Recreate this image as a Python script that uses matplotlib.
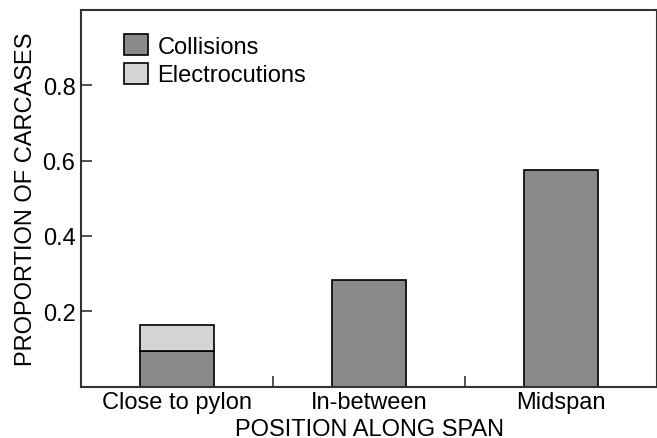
import matplotlib.pyplot as plt
import numpy as np
from matplotlib.patches import Patch

plt.rcParams['font.family'] = ['Liberation Sans', 'DejaVu Sans']

# data
positions = ['Close to pylon', 'In-between', 'Midspan']
collisions = [0.095, 0.283, 0.576]
electrocutions = [0.068, 0.0, 0.0]

fig = plt.figure(figsize=(6.57, 4.39), dpi=100)
ax = fig.add_axes([0.1233, 0.1173, 0.8767, 0.858])

x = np.arange(len(positions))
w = 0.39
ax.bar(x, collisions, w, color='#8a8a8a', edgecolor='black', linewidth=1.2)
has_e = np.array(electrocutions) > 0
ax.bar(x[has_e], np.array(electrocutions)[has_e], w, bottom=np.array(collisions)[has_e],
       color='#d4d4d4', edgecolor='black', linewidth=1.2)

ax.set_xlim(-0.5, 2.5)
ax.set_ylim(0, 1.0)

# y ticks 0..1 but label only 0.2-0.8
yt = [0, 0.2, 0.4, 0.6, 0.8, 1.0]
ax.set_yticks(yt)
ax.set_yticklabels(['', '0.2', '0.4', '0.6', '0.8', ''])
ax.tick_params(axis='y', direction='in', length=8, width=1.2, colors='#333333',
               labelcolor='black', labelsize=17, pad=4)

# x: separator ticks between categories, labels centred under bars
ax.set_xticks([0.5, 1.5])
ax.set_xticklabels([])
ax.set_xticks(x, minor=True)
ax.set_xticklabels(positions, minor=True, fontsize=17)
ax.tick_params(axis='x', which='major', direction='in', length=8, width=1.2, colors='#333333')
ax.tick_params(axis='x', which='minor', length=0, pad=3)

for s in ax.spines.values():
    s.set_color('#333333')
    s.set_linewidth(1.5)

ax.set_xlabel('POSITION ALONG SPAN', fontsize=17, labelpad=3.5)
ax.set_ylabel('PROPORTION OF CARCASES', fontsize=17, labelpad=4)

handles = [Patch(facecolor='#8a8a8a', edgecolor='black', linewidth=1.2, label='Collisions'),
           Patch(facecolor='#d4d4d4', edgecolor='black', linewidth=1.2, label='Electrocutions')]
ax.legend(handles=handles, loc='upper left', bbox_to_anchor=(0.075, 0.935), frameon=False,
          fontsize=17, handlelength=1.0, handleheight=1.0, handletextpad=0.4,
          labelspacing=0.2, borderaxespad=0, borderpad=0)

fig.savefig('out.png', dpi=100)
